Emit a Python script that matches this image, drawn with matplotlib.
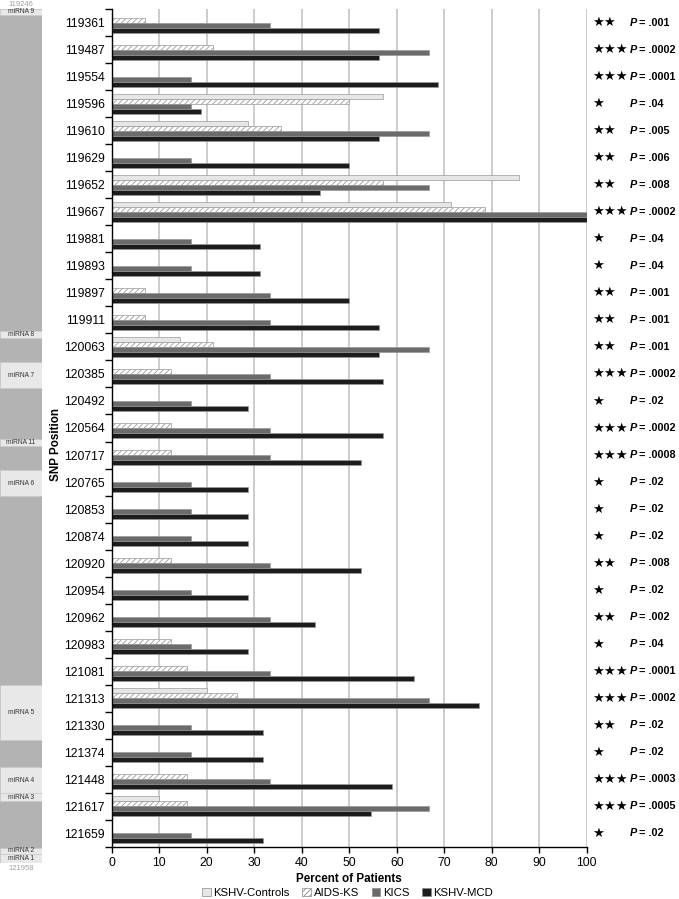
import matplotlib
matplotlib.use('Agg')
import matplotlib.pyplot as plt
import matplotlib.patches as patches
import numpy as np

plt.rcParams['font.family'] = ['Liberation Sans', 'DejaVu Sans']
plt.rcParams['hatch.linewidth'] = 0.6
plt.rcParams['hatch.color'] = '#555555'

# SNP positions, top to bottom
snp = ['119361', '119487', '119554', '119596', '119610', '119629', '119652', '119667',
       '119881', '119893', '119897', '119911', '120063', '120385', '120492', '120564',
       '120717', '120765', '120853', '120874', '120920', '120954', '120962', '120983',
       '121081', '121313', '121330', '121374', '121448', '121617', '121659']

# percent of patients per group
controls = [0, 0, 0, 57.1, 28.6, 0, 85.7, 71.4, 0, 0, 0, 0, 14.3, 0, 0, 0,
            0, 0, 0, 0, 0, 0, 0, 0, 0, 20, 0, 0, 0, 10, 0]
aids_ks = [7.1, 21.4, 0, 50, 35.7, 0, 57.1, 78.6, 0, 0, 7.1, 7.1, 21.4, 12.5, 0, 12.5,
           12.5, 0, 0, 0, 12.5, 0, 0, 12.5, 15.8, 26.3, 0, 0, 15.8, 15.8, 0]
kics = [33.3, 66.7, 16.7, 16.7, 66.7, 16.7, 66.7, 100, 16.7, 16.7, 33.3, 33.3, 66.7, 33.3, 16.7, 33.3,
        33.3, 16.7, 16.7, 16.7, 33.3, 16.7, 33.3, 16.7, 33.3, 66.7, 16.7, 16.7, 33.3, 66.7, 16.7]
mcd = [56.3, 56.3, 68.8, 18.8, 56.3, 50, 43.8, 100, 31.3, 31.3, 50, 56.3, 56.3, 57.1, 28.6, 57.1,
       52.4, 28.6, 28.6, 28.6, 52.4, 28.6, 42.9, 28.6, 63.6, 77.3, 31.8, 31.8, 59.1, 54.5, 31.8]

# significance
n_stars = [2, 3, 3, 1, 2, 2, 2, 3, 1, 1, 2, 2, 2, 3, 1, 3,
           3, 1, 1, 1, 2, 1, 2, 1, 3, 3, 2, 1, 3, 3, 1]
pvals = ['.001', '.0002', '.0001', '.04', '.005', '.006', '.008', '.0002', '.04', '.04',
         '.001', '.001', '.001', '.0002', '.02', '.0002', '.0008', '.02', '.02', '.02',
         '.008', '.02', '.002', '.04', '.0001', '.0002', '.02', '.02', '.0003', '.0005', '.02']

# miRNA map along the genome
genome_start, genome_end = 119246, 121958
mirna_names = ['miRNA 9', 'miRNA 8', 'miRNA 7', 'miRNA 11', 'miRNA 6',
               'miRNA 5', 'miRNA 4', 'miRNA 3', 'miRNA 2', 'miRNA 1']
mirna_start = [119246, 120269, 120367, 120611, 120710, 121393, 121653, 121736, 121910, 121929]
mirna_end = [119265, 120291, 120450, 120634, 120793, 121567, 121736, 121761, 121929, 121958]

series = [('KSHV-Controls', controls, '#e6e6e6', None),
          ('AIDS-KS', aids_ks, 'white', '//////'),
          ('KICS', kics, '#6b6b6b', None),
          ('KSHV-MCD', mcd, '#1c1c1c', None)]

W, H = 679, 899
fig = plt.figure(figsize=(W / 100, H / 100), dpi=100)
ax = fig.add_axes([111.7 / W, 1 - 847 / H, 475 / W, 838 / H])

y = np.arange(len(snp))
h = 0.185
handles = []
for k, (name, vals, col, hatch) in enumerate(series):
    ax.barh(y + (k - 1.5) * h, vals, height=h, color=col, hatch=hatch,
            edgecolor='#999999', linewidth=0.5, zorder=2)
    handles.append(patches.Patch(facecolor=col, hatch=hatch, edgecolor='#888888',
                                 linewidth=0.5, label=name))

ax.set_xlim(0, 100)
ax.set_ylim(len(snp) - 0.5, -0.5)
ax.set_xticks(np.arange(0, 101, 10))
ax.grid(axis='x', color='#c4c4c4', linewidth=1.2, zorder=0)
ax.set_axisbelow(True)
for s in ['top', 'right']:
    ax.spines[s].set_visible(False)
ax.spines['left'].set_linewidth(1)
ax.spines['bottom'].set_linewidth(1)

# tick marks between categories, labels at centres
ax.set_yticks(np.arange(-0.5, len(snp), 1))
ax.set_yticklabels([])
ax.tick_params(axis='y', which='major', length=5, width=1)
ax.set_yticks(y, minor=True)
ax.set_yticklabels(snp, minor=True, fontsize=8.8)
ax.tick_params(axis='y', which='minor', length=0, pad=5)
ax.tick_params(axis='x', length=4, width=1, labelsize=8.8)

ax.set_xlabel('Percent of Patients', fontsize=8.4, fontweight='bold')
ax.xaxis.set_label_coords(0.5, -0.0305)
ax.set_ylabel('SNP Position', fontsize=8.4, fontweight='bold')
ax.yaxis.set_label_coords(-0.104, 0.48)

# stars and P values on the right
tr = ax.get_yaxis_transform()
for i in range(len(snp)):
    ax.text(1.011, i, '\u2605' * n_stars[i], transform=tr, fontsize=9.5,
            family='DejaVu Sans', va='center', ha='left', clip_on=False)
    ax.text(1.090, i, 'P', transform=tr, fontsize=7.8, style='italic',
            fontweight='bold', va='center', ha='left', clip_on=False)
    ax.text(1.111, i, '= ' + pvals[i], transform=tr, fontsize=7.8,
            fontweight='bold', va='center', ha='left', clip_on=False)

fig.legend(handles=handles, loc='center', bbox_to_anchor=(0.512, 1 - 893 / H),
           ncol=4, frameon=False, fontsize=8.2, handlelength=0.75, handleheight=0.75,
           handletextpad=0.25, columnspacing=1.1, borderpad=0)

# genome strip with miRNA locations
axs = fig.add_axes([0, 1 - 863 / H, 42 / W, 854 / H])
axs.set_ylim(genome_end, genome_start)
axs.set_xlim(0, 1)
axs.axis('off')
axs.axhspan(genome_start, genome_end, color='#b3b3b3', lw=0)
for name, s0, s1 in zip(mirna_names, mirna_start, mirna_end):
    axs.axhspan(s0, s1, facecolor='#e8e8e8', edgecolor='#c8c8c8', lw=0.4)
    axs.text(0.5, (s0 + s1) / 2, name, fontsize=4.8, color='#333333',
             ha='center', va='center')
axs.text(0.5, genome_start - 14, str(genome_start), fontsize=5.5, color='#a0a0a0',
         ha='center', va='center', clip_on=False)
axs.text(0.5, genome_end + 16, str(genome_end), fontsize=5.5, color='#a0a0a0',
         ha='center', va='center', clip_on=False)

plt.savefig('out.png', dpi=100)
plt.close()
